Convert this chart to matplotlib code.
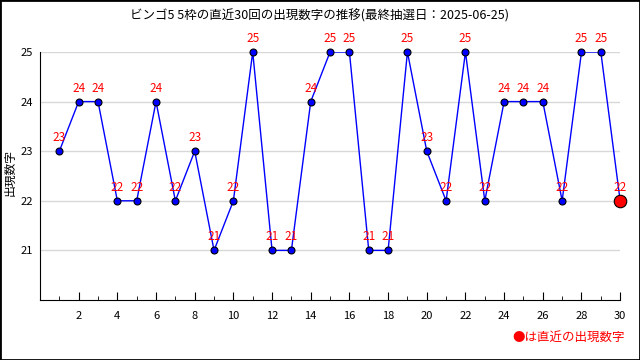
import numpy as np
import matplotlib
matplotlib.use("Agg")
import matplotlib.pyplot as plt
from matplotlib.patches import Rectangle

plt.rcParams['font.family'] = ['Noto Sans CJK JP', 'DejaVu Sans']

draws = list(range(1, 31))
numbers = [23, 24, 24, 22, 22, 24, 22, 23, 21, 22, 25, 21, 21, 24, 25,
           25, 21, 21, 25, 23, 22, 25, 22, 24, 24, 24, 22, 25, 25, 22]
title = "ビンゴ5 5枠の直近30回の出現数字の推移(最終抽選日：2025-06-25)"

fig = plt.figure(figsize=(6.4, 3.6), dpi=100, facecolor='white')
ax = fig.add_axes([0.0625, 0.1667, 0.9065, 0.6889])

ax.plot(draws, numbers, color='blue', lw=1, zorder=2)
ax.plot(draws[:-1], numbers[:-1], 'o', ms=5, mfc='blue', mec='black', mew=0.8,
        zorder=3, clip_on=False)
ax.plot(draws[-1], numbers[-1], 'o', ms=9, mfc='red', mec='black', mew=0.8,
        zorder=3, clip_on=False)
for x, y in zip(draws, numbers):
    ax.annotate(str(y), (x, y), xytext=(0, 5), textcoords='offset points',
                ha='center', va='bottom', color='red', fontsize=8.5, zorder=4)

ax.set_xlim(0, 30)
ax.set_ylim(20, 25)
ax.set_xticks(range(2, 31, 2))
ax.set_xticks(range(1, 31), minor=True)
ax.set_yticks([21, 22, 23, 24, 25])
ax.tick_params(axis='x', direction='in', length=6, labelsize=8, pad=8)
ax.tick_params(axis='x', which='minor', direction='in', length=3)
ax.tick_params(axis='y', length=0, labelsize=8, pad=5)
ax.grid(axis='y', color='#d8d8d8', lw=1)
ax.set_axisbelow(True)
for s in ['top', 'right']:
    ax.spines[s].set_visible(False)

fig.text(0.5, 0.955, title, ha='center', va='center', fontsize=9)
fig.text(0.016, 0.52, "出現数字", rotation=90, ha='center', va='center', fontsize=8.5)
fig.text(0.977, 0.062, "●は直近の出現数字", ha='right', va='center',
         color='red', fontsize=9)

fig.patches.append(Rectangle((0, 0), 1, 1, transform=fig.transFigure,
                             fill=False, ec='black', lw=2))

fig.savefig('out.png', dpi=100)
